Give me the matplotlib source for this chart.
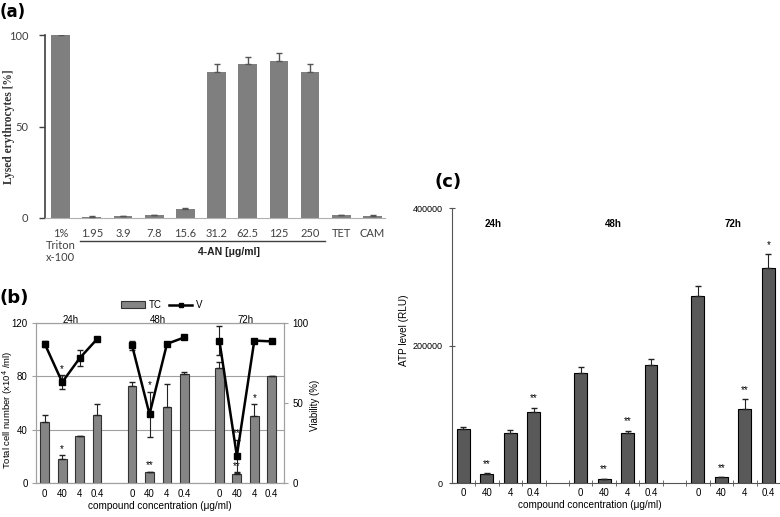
import matplotlib
matplotlib.use("Agg")
import matplotlib.pyplot as plt
from matplotlib.lines import Line2D
from matplotlib.patches import Patch
import numpy as np

W, H = 780, 517

# ---- panel (a): haemolysis ----
lysis_labels = ['1%\nTriton\nx-100', '1.95', '3.9', '7.8', '15.6', '31.2',
                '62.5', '125', '250', 'TET', 'CAM']
lysis_vals = [100, 0.8, 1.0, 1.5, 5.0, 80, 84, 86, 80, 1.5, 1.2]
lysis_err = [0.3, 0.3, 0.3, 0.3, 0.5, 4, 4, 4, 4, 0.3, 0.3]

# ---- panel (b): total cell number (TC) and viability (V) ----
times = ['24h', '48h', '72h']
conc_labels = ['0', '40', '4', '0.4']
tc_vals = [46, 18, 35, 51, 73, 8, 57, 82, 86, 7, 50, 80]
tc_err = [5, 3, 0.6, 8, 3, 0.6, 17, 1.5, 5, 0.6, 9, 0.6]
tc_sig = ['', '*', '', '', '', '**', '', '', '', '**', '*', '']
v_vals = [87, 63, 78, 90, 86, 43, 87, 91, 89, 17, 89, 88.5]
v_err = [2, 4.5, 5, 0.5, 3, 14, 0.5, 0.5, 9, 10, 0.5, 0.5]
v_sig = ['', '*', '', '', '', '*', '', '', '', '**', '', '']

# ---- panel (c): ATP level ----
atp_vals = [79500, 13000, 72700, 104000, 160000, 6000, 72700, 172600,
            273000, 8700, 108600, 313000]
atp_err = [2500, 1500, 5500, 6000, 9000, 700, 4000, 8000,
           14500, 800, 13500, 20000]
atp_sig = ['', '**', '', '**', '', '**', '**', '', '', '**', '**', '*']


def box(l, t, r, b):
    return [l / W, 1 - b / H, (r - l) / W, (b - t) / H]


# bar positions: 4 per group, one empty slot between groups
pos = np.array([g * 5 + i for g in range(3) for i in range(4)])
grp_center = [g * 5 + 1.5 for g in range(3)]

fig = plt.figure(figsize=(W / 100, H / 100), dpi=100)

# ================= (a) =================
calib = 'Lato'
ax = fig.add_axes(box(45, 35, 385, 218))
xa = np.arange(len(lysis_vals))
ax.bar(xa, lysis_vals, width=0.6, color='#7f7f7f', zorder=2)
ax.errorbar(xa, lysis_vals, yerr=[np.zeros(len(lysis_err)), lysis_err],
            fmt='none', ecolor='#555555', elinewidth=1, capsize=2.5, zorder=3)
ax.set_xlim(-0.5, 10.4)
ax.set_ylim(0, 100)
ax.set_yticks([0, 50, 100])
ax.set_yticklabels(['0', '50', '100'], fontsize=8, family=calib, color='#404040')
ax.set_xticks(xa)
ax.set_xticklabels(lysis_labels, fontsize=8, family=calib, color='#404040',
                   linespacing=1.15)
ax.tick_params(axis='x', length=0, pad=7)
ax.tick_params(axis='y', length=4, width=1, color='#404040', pad=8)
for s in ['top', 'right']:
    ax.spines[s].set_visible(False)
ax.spines['left'].set_color('#404040')
ax.spines['left'].set_linewidth(1.2)
ax.spines['bottom'].set_color('#b0b0b0')
ax.spines['bottom'].set_linestyle((0, (1, 1)))
ax.plot([0.62, 8.47], [-0.126, -0.126], transform=ax.get_xaxis_transform(),
        color='#404040', lw=1, clip_on=False)
ax.text(5.4, -0.186, '4-AN [μg/ml]', transform=ax.get_xaxis_transform(),
        ha='center', va='center', fontsize=7.5, fontweight='bold',
        family='Liberation Sans', color='#202020')
fig.text(9 / W, 1 - 127 / H, 'Lysed erythrocytes [%]', rotation=90,
         ha='center', va='center', fontsize=8.3, fontweight='bold',
         family='Liberation Serif', color='#303030')
fig.text(13 / W, 1 - 12 / H, '(a)', ha='center', va='center', fontsize=12,
         fontweight='bold', family='DejaVu Sans')

# ================= (b) =================
arial = 'Liberation Sans'
grey = '#a0a0a0'
ax = fig.add_axes(box(36, 323, 284, 483))
ax.bar(pos, tc_vals, width=0.5, color='#858585', edgecolor='#333333',
       linewidth=0.8, zorder=2)
ax.errorbar(pos, tc_vals, yerr=[np.zeros(len(tc_err)), tc_err], fmt='none',
            ecolor='#222222', elinewidth=0.8, capsize=2, zorder=3)
ax.set_xlim(-0.5, 13.7)
ax.set_ylim(0, 120)
ax.set_yticks([0, 40, 80, 120])
ax.yaxis.grid(True, color=grey, lw=0.8, zorder=0)
ax.set_axisbelow(True)
ax.set_xticks(pos)
ax.set_xticklabels(conc_labels * 3, fontsize=7, family=arial)
ax.tick_params(axis='x', length=0, pad=4)
ax.tick_params(axis='y', length=3, color=grey, labelsize=7, pad=3)
for t in ax.get_yticklabels():
    t.set_family(arial)
for s in ax.spines.values():
    s.set_color(grey)
for x, y, e, s in zip(pos, tc_vals, tc_err, tc_sig):
    if s:
        ax.annotate(s, (x, y + e), xytext=(0, 1), textcoords='offset points',
                    ha='center', va='bottom', fontsize=7, family=arial)
for g, t in enumerate(times):
    ax.text(grp_center[g], 1.02, t, transform=ax.get_xaxis_transform(),
            ha='center', va='center', fontsize=7, family=arial)

ax2 = ax.twinx()
ax2.set_ylim(0, 100)
ax2.set_yticks([0, 50, 100])
ax2.tick_params(axis='y', length=3, color=grey, labelsize=7, pad=3)
for t in ax2.get_yticklabels():
    t.set_family(arial)
for s in ax2.spines.values():
    s.set_color(grey)
for g in range(3):
    sl = slice(g * 4, g * 4 + 4)
    ax2.errorbar(pos[sl], v_vals[sl], yerr=v_err[sl], color='black', lw=1.8,
                 marker='s', ms=4.5, ecolor='#222222', elinewidth=0.8,
                 capsize=2, zorder=4)
for x, y, e, s in zip(pos, v_vals, v_err, v_sig):
    if s:
        ax2.annotate(s, (x, y + e), xytext=(0, 1), textcoords='offset points',
                     ha='center', va='bottom', fontsize=7, family=arial)

fig.text(8 / W, 1 - 410 / H, 'Total cell number (x10$^4$ /ml)', rotation=90,
         ha='center', va='center', fontsize=6.8, family=arial)
fig.text(315 / W, 1 - 405 / H, 'Viability (%)', rotation=90,
         ha='center', va='center', fontsize=7, family=arial)
fig.text(160 / W, 1 - 506 / H, 'compound concentration (μg/ml)',
         ha='center', va='center', fontsize=7.2, family=arial)
handles = [Patch(facecolor='#858585', edgecolor='#333333', lw=0.8),
           Line2D([], [], color='black', lw=1.8, marker='s', ms=3.5)]
fig.legend(handles, ['TC', 'V'], loc='center',
           bbox_to_anchor=(162 / W, 1 - 305 / H), ncol=2, frameon=False,
           prop={'family': arial, 'size': 7}, handlelength=2.4,
           handletextpad=0.4, columnspacing=0.8)
fig.text(14 / W, 1 - 298 / H, '(b)', ha='center', va='center', fontsize=13,
         fontweight='bold', family='DejaVu Sans')

# ================= (c) =================
ax = fig.add_axes(box(451.7, 208.3, 780, 483.3))
ax.bar(pos, atp_vals, width=0.55, color='#595959', edgecolor='black',
       linewidth=0.8, zorder=2)
ax.errorbar(pos, atp_vals, yerr=[np.zeros(len(atp_err)), atp_err], fmt='none',
            ecolor='#222222', elinewidth=0.8, capsize=2, zorder=3)
ax.set_xlim(-0.5, 13.5)
ax.set_ylim(0, 400000)
ax.set_yticks([0, 200000, 400000])
ax.set_yticklabels(['0', '200000', '400000'], fontsize=6.5, family=arial)
ax.set_xticks(pos)
ax.set_xticklabels(conc_labels * 3, fontsize=7, family=arial)
ax.set_xticks(np.arange(0.5, 14, 1.0), minor=True)
ax.tick_params(axis='x', which='major', length=0, pad=3.5)
ax.tick_params(axis='x', which='minor', direction='inout', length=4,
               color='#555555')
ax.tick_params(axis='y', direction='inout', length=5, color='#555555', pad=4)
for s in ['top', 'right']:
    ax.spines[s].set_visible(False)
for s in ['left', 'bottom']:
    ax.spines[s].set_color('#555555')
for x, y, e, s in zip(pos, atp_vals, atp_err, atp_sig):
    if s:
        ax.annotate(s, (x, y + e), xytext=(0, 3), textcoords='offset points',
                    ha='center', va='bottom', fontsize=7, family=arial)
for x, t in zip([1.25, 6.4, 11.5], times):
    ax.text(x, 0.943, t, transform=ax.get_xaxis_transform(), ha='center',
            va='center', fontsize=7, fontweight='bold', family=arial)
fig.text(404 / W, 1 - 330 / H, 'ATP level (RLU)', rotation=90,
         ha='center', va='center', fontsize=7.2, family=arial)
fig.text(590 / W, 1 - 505 / H, 'compound concentration (μg/ml)',
         ha='center', va='center', fontsize=7.2, family=arial)
fig.text(448 / W, 1 - 182 / H, '(c)', ha='center', va='center', fontsize=13,
         fontweight='bold', family='DejaVu Sans')

fig.savefig('out.png', dpi=100)
